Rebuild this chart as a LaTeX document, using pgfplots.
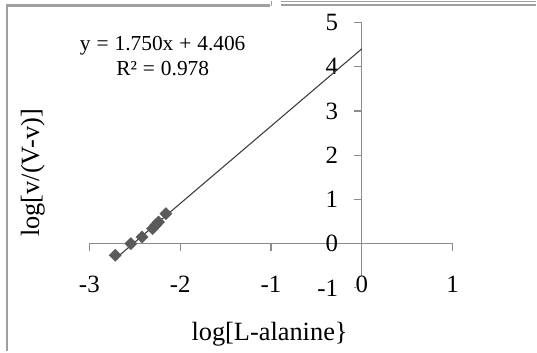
\documentclass[border=0pt]{standalone}
\usepackage{fontspec}
\setmainfont{Liberation Serif}
\usepackage{pgfplots}
\pgfplotsset{compat=1.18}
\definecolor{axgray}{HTML}{8C8C8C}
\definecolor{markgray}{HTML}{5A5A5A}
\definecolor{linegray}{HTML}{404040}
\definecolor{framegray}{HTML}{A0A0A0}
\begin{document}
\begin{tikzpicture}
\begin{scope}[xshift=-362.5bp, yshift=243.3bp, x=1bp, y=-1bp]
\fill[white] (0,0) rectangle (537,351);
\draw[framegray, line width=2.6bp] (7,351) -- (7,4.5) -- (271,4.5);
\draw[framegray, line width=1.5bp] (272,0) -- (272,5);
\draw[framegray, line width=1bp] (282,0.5) -- (537,0.5);
\draw[framegray, line width=2bp] (282,4) -- (537,4);
\end{scope}
\begin{axis}[
  anchor=origin, at={(0,0)},
  x=91bp, y=44.3bp,
  xmin=-3, xmax=1, ymin=-1, ymax=5,
  axis lines=middle,
  axis line style={axgray, line width=1.2bp, -},
  clip=false,
  hide obscured x ticks=false, hide obscured y ticks=false,
  xtick={-3,-2,-1,0,1}, xticklabels={-3,-2,-1,0,1},
  ytick={-1,0,1,2,3,4,5}, yticklabels={-1,0,1,2,3,4,5},
  tick style={axgray, line width=1.2bp},
  tick align=outside, major tick length=7.5bp,
  x tick label style={font=\fontsize{25}{27}\selectfont, anchor=north, inner sep=0pt, yshift=-25bp, fill=white},
  y tick label style={font=\fontsize{25}{27}\selectfont, anchor=east, inner sep=0pt, xshift=-16bp},
]
\addplot[linegray, line width=1.1bp] coordinates {(-2.73,-0.372) (0,4.406)};
\addplot[only marks, mark=square*, mark size=4.3bp, mark options={markgray, draw=markgray, fill=markgray, rotate=45}] coordinates {
(-2.714,-0.264) (-2.542,0.000) (-2.421,0.149) (-2.304,0.339) (-2.270,0.420) (-2.238,0.488) (-2.157,0.677)
};
\node[font=\fontsize{21.5}{25}\selectfont, align=center] at (axis cs:-2.192,4.239) {y\;=\;1.750x\;+\;4.406\\R²\;=\;0.978};
\node[font=\fontsize{26.5}{28}\selectfont, anchor=base] at (axis cs:-1.016,-2.183) {log[L-alanine\}};
\node[font=\fontsize{26.5}{28}\selectfont, rotate=90] at (axis cs:-3.622,1.598) {log[v/(V-v)]};
\end{axis}
\end{tikzpicture}
\end{document}
